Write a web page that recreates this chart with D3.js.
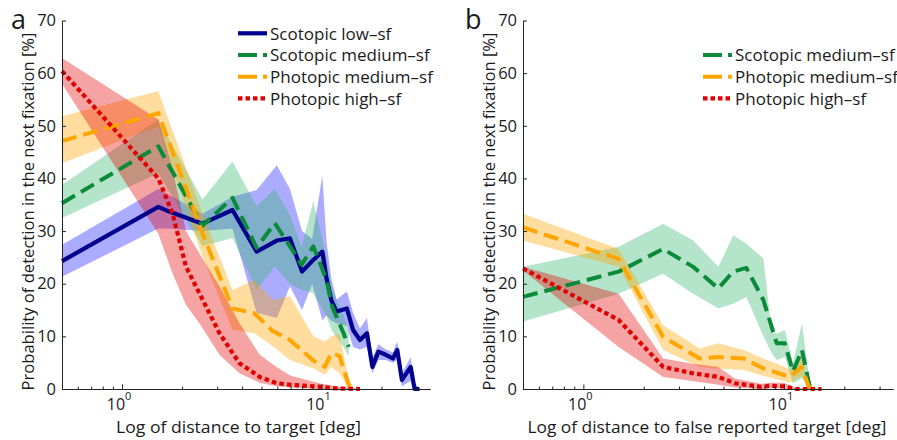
<!DOCTYPE html>
<html>
<head>
<meta charset="utf-8">
<script src="https://cdn.jsdelivr.net/npm/d3@7"></script>
<style>
  body { margin: 0; background: #fff; }
  svg text { font-family: "Open Sans", sans-serif; fill: #1a1a1a; }
</style>
</head>
<body>
<div id="chart"></div>
<script>
// ---- values (distance in deg, probability in %) ----

// panel a : Scotopic low-sf
var distBlueA = [0.5, 1.52, 1.7, 2.53, 3.58, 4.73, 5.97, 6.95, 7.99, 8.98, 10.1, 10.6, 11.2, 11.9, 13.4, 14.4, 15.6, 16.9, 18.0, 19.3, 21.0, 22.8, 24.0, 25.3, 28.0, 29.3, 31.0];
var meanBlueA = [24.3, 34.6, 33.8, 31.4, 34.0, 26.1, 28.2, 28.6, 22.3, 24.3, 26.1, 21.0, 16.9, 14.7, 15.3, 11.2, 9.3, 10.6, 4.2, 7.1, 6.5, 5.8, 7.4, 1.7, 4.2, 0, 0];
var loBlueA   = [21.3, 30.5, 30.5, 30.0, 30.5, 14.5, 13.5, 19.5, 15.0, 20.0, 13.0, 14.0, 13.0, 12.5, 12.0, 8.0, 7.5, 8.0, 3.0, 5.5, 5.5, 5.0, 5.5, 0.5, 1.5, 0, 0];
var hiBlueA   = [27.4, 38.0, 37.0, 33.3, 36.5, 37.8, 42.5, 38.0, 30.0, 28.5, 40.5, 28.0, 21.0, 17.0, 18.5, 14.5, 11.5, 13.5, 6.0, 8.5, 7.5, 7.0, 9.0, 3.0, 6.0, 1.0, 0];

// panel a : Scotopic medium-sf
var distGreenA = [0.5, 1.52, 2.53, 3.58, 4.73, 5.83, 6.95, 7.95, 9.1, 10.6, 11.3, 12.9, 13.7];
var meanGreenA = [35.3, 46.1, 31.0, 36.3, 26.8, 31.5, 27.1, 23.6, 27.1, 20.7, 15.7, 10.6, 8.0];
var loGreenA   = [32.5, 41.0, 27.1, 28.7, 18.8, 23.3, 20.0, 18.8, 18.2, 13.8, 11.0, 8.0, 6.2];
var hiGreenA   = [38.8, 51.2, 36.0, 43.2, 34.7, 38.0, 33.0, 27.0, 35.6, 25.0, 19.0, 14.0, 10.6];

// panel a : Photopic medium-sf
var distOrangeA = [0.5, 1.52, 2.53, 3.58, 4.6, 5.7, 6.95, 9.1, 10.4, 11.2, 12.3, 13.7, 14.5];
var meanOrangeA = [47.1, 52.4, 29.6, 15.3, 14.4, 11.0, 9.3, 5.4, 4.2, 6.8, 6.3, 0.8, 0];
var loOrangeA   = [42.9, 49.9, 25.2, 11.2, 10.6, 8.1, 5.5, 3.9, 2.7, 4.2, 3.0, 0, 0];
var hiOrangeA   = [51.8, 56.6, 33.4, 18.8, 20.7, 16.9, 17.6, 10.0, 9.0, 10.0, 10.5, 2.0, 0];

// panel a : Photopic high-sf
var distRedA = [0.5, 1.52, 1.79, 2.09, 2.44, 3.08, 3.88, 4.9, 5.95, 7.0, 10.0, 12.0, 15.6];
var meanRedA = [60.4, 40.0, 33.4, 23.3, 18.2, 10.6, 4.9, 2.3, 1.1, 0.8, 0.4, 0.1, 0];
var loRedA   = [58.0, 29.5, 22.0, 16.0, 12.5, 6.5, 3.0, 1.2, 0.5, 0.3, 0, 0, 0];
var hiRedA   = [62.9, 51.2, 42.0, 30.0, 25.8, 19.5, 12.5, 6.5, 4.2, 2.5, 1.0, 0.5, 0];

// panel b : Scotopic medium-sf
var distGreenB = [0.5, 1.5, 2.5, 3.53, 4.71, 5.59, 6.5, 7.9, 8.69, 9.2, 10.1, 11.1, 12.3, 13.5];
var meanGreenB = [17.5, 22.3, 26.6, 23.2, 19.1, 22.3, 23.0, 16.9, 11.8, 8.7, 8.7, 3.3, 7.4, 0.2];
var loGreenB   = [12.8, 18.1, 21.9, 18.1, 15.3, 16.2, 17.5, 10.0, 6.8, 5.5, 6.1, 1.1, 2.0, 0];
var hiGreenB   = [23.2, 27.0, 31.4, 28.2, 23.2, 29.2, 27.6, 24.8, 10.9, 10.5, 11.2, 5.0, 12.4, 1.0];

// panel b : Photopic medium-sf
var distOrangeB = [0.5, 1.5, 2.5, 3.8, 4.7, 6.3, 7.9, 10.7, 12.3, 13.3, 15.0];
var meanOrangeB = [30.7, 24.7, 9.9, 5.8, 6.1, 5.8, 3.9, 2.3, 4.2, 0.4, 0];
var loOrangeB   = [28.2, 23.2, 7.4, 4.2, 3.9, 3.6, 2.5, 1.2, 2.5, 0, 0];
var hiOrangeB   = [33.3, 26.6, 12.1, 7.7, 8.7, 7.4, 5.8, 3.8, 6.0, 0.5, 0];

// panel b : Photopic high-sf
var distRedB = [0.5, 1.5, 2.5, 3.5, 4.7, 5.7, 7.7, 8.5, 10.0, 11.5, 15.4];
var meanRedB = [22.9, 13.1, 4.2, 3.0, 2.3, 1.1, 0.4, 0.6, 0.5, 0, 0];
var loRedB   = [22.5, 8.0, 2.3, 1.5, 0.8, 0.3, 0, 0.2, 0.1, 0, 0];
var hiRedB   = [23.2, 18.1, 5.8, 4.8, 4.2, 2.0, 1.0, 1.2, 1.2, 0.2, 0];

var seriesNames = ["Scotopic low\u2013sf", "Scotopic medium\u2013sf", "Photopic medium\u2013sf", "Photopic high\u2013sf"];
var yTicks = [0, 10, 20, 30, 40, 50, 60, 70];
var xMajor = [1, 10];
var xMinor = [0.6, 0.7, 0.8, 0.9, 2, 3, 4, 5, 6, 7, 8, 9, 20, 30];

// styles per series
var styles = [
  {line: "#00008f", band: "#1a1aff", op: 0.36, dash: null,      legDash: null,      width: 4.2},
  {line: "#0b8a3a", band: "#2fb36a", op: 0.36, dash: "15,7",    legDash: "19,6",    width: 4},
  {line: "#ffa500", band: "#ffa500", op: 0.38, dash: "15,7",    legDash: "19,6",    width: 4},
  {line: "#e00000", band: "#e60000", op: 0.36, dash: "4.5,3.2", legDash: "4.5,3",   width: 4.2}
];

function makeSeries(idx, dist, mean, lo, hi) {
  return {
    idx: idx,
    pts: dist.map(function(d, i) { return {d: d, m: mean[i], lo: lo[i], hi: hi[i]}; })
  };
}

var svg = d3.select("#chart").append("svg")
  .attr("width", 897).attr("height", 440);

var yTop = 20.5, yBot = 389;

function drawPanel(p) {
  var x = d3.scaleLog().domain([0.5, 35]).range([p.x0, p.x1]);
  var y = d3.scaleLinear().domain([0, 70]).range([yBot, yTop]);
  var g = svg.append("g");

  var area = d3.area()
    .x(function(d) { return x(d.d); })
    .y0(function(d) { return y(d.lo); })
    .y1(function(d) { return y(d.hi); });
  var line = d3.line()
    .x(function(d) { return x(d.d); })
    .y(function(d) { return y(d.m); });

  // bands first, then lines
  p.series.forEach(function(s) {
    var st = styles[s.idx];
    g.append("path").datum(s.pts)
      .attr("d", area)
      .attr("fill", st.band)
      .attr("fill-opacity", st.op)
      .attr("stroke", "none");
  });
  p.series.forEach(function(s) {
    var st = styles[s.idx];
    g.append("path").datum(s.pts)
      .attr("d", line)
      .attr("fill", "none")
      .attr("stroke", st.line)
      .attr("stroke-width", st.width)
      .attr("stroke-linejoin", "round")
      .attr("stroke-dasharray", st.dash);
  });

  // axes
  var yAxis = d3.axisLeft(y).tickValues(yTicks).tickSize(-4).tickSizeOuter(0).tickPadding(6);
  var ya = g.append("g").attr("transform", "translate(" + p.x0 + ",0)").call(yAxis);
  ya.selectAll("text").style("font-size", "16.5px").attr("fill", "#1a1a1a");

  var xAxis = d3.axisBottom(x).tickValues(xMajor).tickSize(-4.5).tickSizeOuter(0).tickFormat("");
  var xa = g.append("g").attr("transform", "translate(0," + yBot + ")").call(xAxis);
  var xAxisMinor = d3.axisBottom(x).tickValues(xMinor).tickSize(-2.5).tickSizeOuter(0).tickFormat("");
  var xm = g.append("g").attr("transform", "translate(0," + yBot + ")").call(xAxisMinor);
  [ya, xa, xm].forEach(function(a) {
    a.selectAll("path, line").attr("stroke", "#222").attr("stroke-width", 1);
  });

  // 10^k labels
  xMajor.forEach(function(v) {
    var t = g.append("text")
      .attr("x", x(v) - 3).attr("y", 410)
      .attr("text-anchor", "middle")
      .style("font-size", "16px");
    t.append("tspan").text("10");
    t.append("tspan").attr("dy", -10).style("font-size", "11px").text(Math.round(Math.log10(v)));
  });

  // axis titles
  g.append("text")
    .attr("x", p.xLabelX).attr("y", 432.5)
    .attr("text-anchor", "middle")
    .attr("textLength", p.xLabelLen).attr("lengthAdjust", "spacingAndGlyphs")
    .style("font-size", "16.5px")
    .text(p.xLabel);
  g.append("text")
    .attr("transform", "translate(" + p.yLabelX + ",211.5) rotate(-90)")
    .attr("text-anchor", "middle")
    .attr("textLength", 358).attr("lengthAdjust", "spacingAndGlyphs")
    .style("font-size", "17px")
    .text("Probability of detection in the next fixation [%]");

  // panel letter
  g.append("text")
    .attr("x", p.letterX).attr("y", p.letterY)
    .style("font-size", "27px")
    .text(p.letter);

  // legend
  p.series.forEach(function(s, i) {
    var st = styles[s.idx];
    var cy = p.legY0 + i * 21.7;
    g.append("line")
      .attr("x1", p.legX).attr("x2", p.legX + 29)
      .attr("y1", cy).attr("y2", cy)
      .attr("stroke", st.line)
      .attr("stroke-width", st.width)
      .attr("stroke-dasharray", st.legDash);
    g.append("text")
      .attr("x", p.legX + 32).attr("y", cy + 6.3)
      .style("font-size", "17px")
      .text(seriesNames[s.idx]);
  });
}

drawPanel({
  x0: 62, x1: 430, letter: "a", letterX: 11, letterY: 29,
  xLabel: "Log of distance to target [deg]", xLabelX: 238.5, xLabelLen: 245,
  yLabelX: 33.5, legX: 238, legY0: 33.3,
  series: [
    makeSeries(0, distBlueA, meanBlueA, loBlueA, hiBlueA),
    makeSeries(1, distGreenA, meanGreenA, loGreenA, hiGreenA),
    makeSeries(2, distOrangeA, meanOrangeA, loOrangeA, hiOrangeA),
    makeSeries(3, distRedA, meanRedA, loRedA, hiRedA)
  ]
});

drawPanel({
  x0: 523, x1: 893, letter: "b", letterX: 465, letterY: 29,
  xLabel: "Log of distance to false reported target [deg]", xLabelX: 707, xLabelLen: 359,
  yLabelX: 495, legX: 703, legY0: 55,
  series: [
    makeSeries(1, distGreenB, meanGreenB, loGreenB, hiGreenB),
    makeSeries(2, distOrangeB, meanOrangeB, loOrangeB, hiOrangeB),
    makeSeries(3, distRedB, meanRedB, loRedB, hiRedB)
  ]
});
</script>
</body>
</html>
